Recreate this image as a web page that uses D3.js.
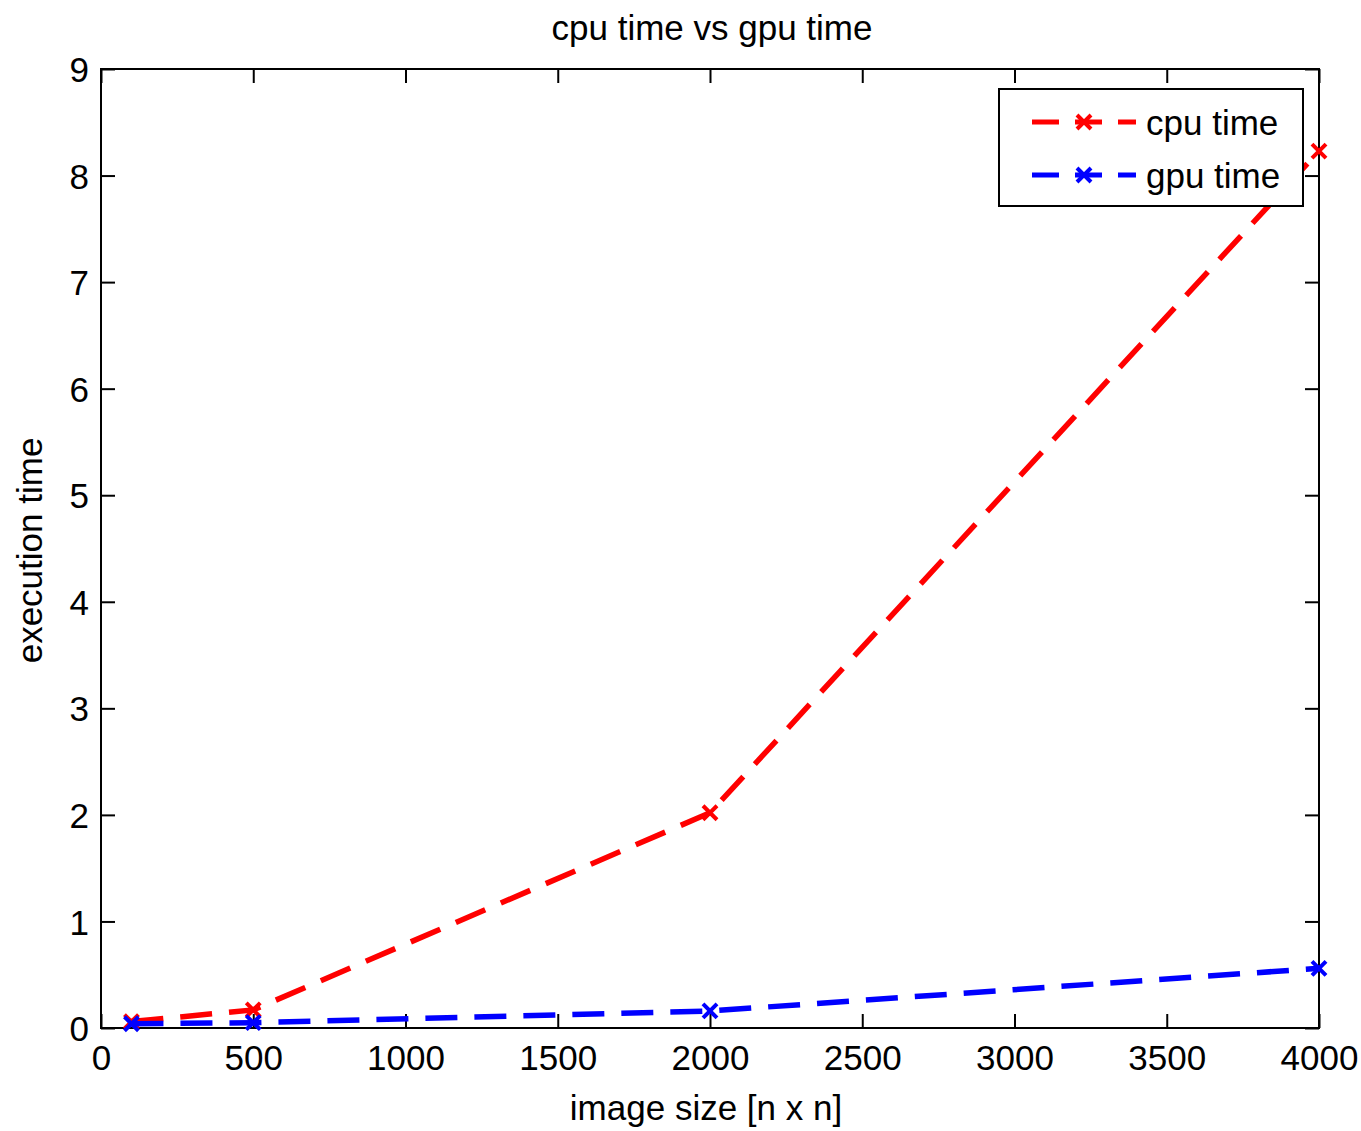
<!DOCTYPE html>
<html><head><meta charset="utf-8">
<script src="https://cdn.jsdelivr.net/npm/d3@7"></script>
<style>body{margin:0;background:#fff}text{font-family:"Liberation Sans",Arial,sans-serif;fill:#000}</style>
</head><body><svg id="c" width="1361" height="1131"></svg>
<script>
const sizes = [100, 500, 2000, 4000];
const cpuTime = [0.06, 0.17, 2.02, 8.23];
const gpuTime = [0.04, 0.05, 0.16, 0.56];
const xTicks = [0,500,1000,1500,2000,2500,3000,3500,4000];
const yTicks = [0,1,2,3,4,5,6,7,8,9];
const seriesNames = ["cpu time","gpu time"];
const seriesColors = ["#ff0000","#0000ff"];

const svg = d3.select("#c");
const L=101, R=1319, T=69, B=1028;
const x = d3.scaleLinear().domain([0,4000]).range([L,R]);
const y = d3.scaleLinear().domain([0,9]).range([B,T]);
const fs = 35;

svg.append("rect").attr("x",L).attr("y",T).attr("width",R-L).attr("height",B-T)
  .attr("fill","none").attr("stroke","#000").attr("stroke-width",2);

const tl=14;
const gx = svg.append("g").attr("transform",`translate(0,${B})`)
  .call(d3.axisBottom(x).tickValues(xTicks).tickSize(-tl).tickPadding(17).tickFormat(d3.format("d")));
const gxt = svg.append("g").attr("transform",`translate(0,${T})`)
  .call(d3.axisTop(x).tickValues(xTicks).tickSize(-tl).tickFormat(""));
const gy = svg.append("g").attr("transform",`translate(${L},0)`)
  .call(d3.axisLeft(y).tickValues(yTicks).tickSize(-tl).tickPadding(12).tickFormat(d3.format("d")));
const gyr = svg.append("g").attr("transform",`translate(${R},0)`)
  .call(d3.axisRight(y).tickValues(yTicks).tickSize(-tl).tickFormat(""));
[gx,gxt,gy,gyr].forEach(g=>{
  g.select(".domain").remove();
  g.selectAll("line").attr("stroke","#000").attr("stroke-width",2);
  g.selectAll("text").attr("font-size",fs).attr("font-family","Liberation Sans, Arial, sans-serif").attr("fill","#000");
});
gx.selectAll("text").attr("dy","0.71em");
gy.selectAll("text").attr("dy","0.36em");

svg.append("text").attr("x",(L+R)/2+2).attr("y",40).attr("text-anchor","middle").attr("font-size",fs).text("cpu time vs gpu time");
svg.append("text").attr("x",(L+R)/2-4).attr("y",1120).attr("text-anchor","middle").attr("font-size",fs).text("image size [n x n]");
svg.append("text").attr("transform",`translate(42,${(T+B)/2+2}) rotate(-90)`).attr("text-anchor","middle").attr("font-size",fs).text("execution time");

const data = [cpuTime, gpuTime];
const line = d3.line().x((d,i)=>x(sizes[i])).y(d=>y(d));
function xMark(g, cx, cy, col, s){
  g.append("path").attr("d",`M${cx-s},${cy-s}L${cx+s},${cy+s}M${cx-s},${cy+s}L${cx+s},${cy-s}`)
   .attr("stroke",col).attr("stroke-width",4).attr("fill","none");
}
data.forEach((vals,k)=>{
  const g = svg.append("g");
  g.append("path").datum(vals).attr("d",line).attr("fill","none")
   .attr("stroke",seriesColors[k]).attr("stroke-width",5.5).attr("stroke-dasharray","32,17");
  vals.forEach((v,i)=>xMark(g,x(sizes[i]),y(v),seriesColors[k],7));
});

const lg = svg.append("g");
lg.append("rect").attr("x",999).attr("y",89).attr("width",304).attr("height",117)
  .attr("fill","#fff").attr("stroke","#000").attr("stroke-width",2);
seriesNames.forEach((n,k)=>{
  const yy = 122 + k*53;
  lg.append("line").attr("x1",1032).attr("x2",1136).attr("y1",yy).attr("y2",yy)
    .attr("stroke",seriesColors[k]).attr("stroke-width",5).attr("stroke-dasharray","27,16");
  xMark(lg,1084,yy,seriesColors[k],7);
  lg.append("text").attr("x",1146).attr("y",yy).attr("dy","0.36em").attr("font-size",fs).text(n);
});
</script></body></html>
